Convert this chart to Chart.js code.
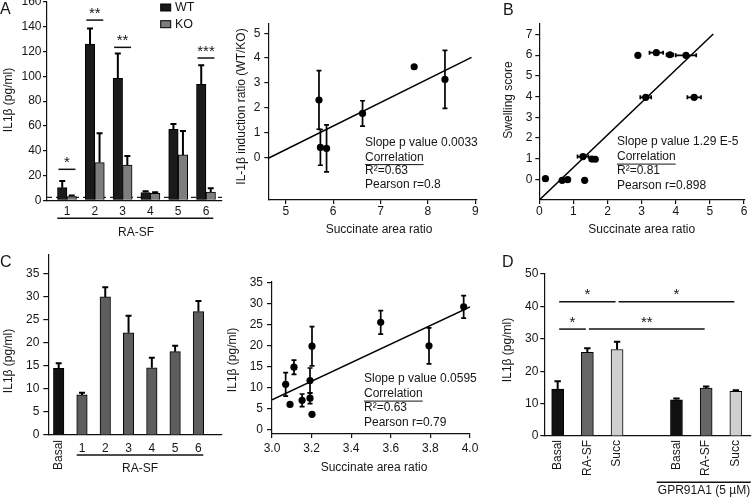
<!DOCTYPE html>
<html>
<head>
<meta charset="utf-8">
<script src="https://cdn.jsdelivr.net/npm/chart.js@4.4.1/dist/chart.umd.min.js"></script>
<style>
  html, body { margin: 0; padding: 0; background: #fff; }
  #wrap { position: relative; width: 754px; height: 499px; overflow: hidden; }
  #wrap canvas { position: absolute; left: 0; top: 0; }
</style>
</head>
<body>
<div id="wrap">
  <canvas id="barsA" width="754" height="499"></canvas>
  <canvas id="scatterA" width="754" height="499"></canvas>
  <canvas id="scatterB" width="754" height="499"></canvas>
  <canvas id="barsC" width="754" height="499"></canvas>
  <canvas id="scatterC" width="754" height="499"></canvas>
  <canvas id="barsD" width="754" height="499"></canvas>
</div>
<script>
// ---- data ----

// A, left: IL1β per RA-SF sample, WT vs KO
const samplesA = ['1', '2', '3', '4', '5', '6'];
const wtA = [10.2, 126, 98.4, 6.2, 57.3, 93.5];
const wtErrA = [5.4, 12.7, 20, 1.1, 4.3, 15.5];
const koA = [3, 30.4, 28.5, 5.6, 36.6, 6.7];
const koErrA = [0.8, 23.6, 7.3, 0.9, 19.4, 3];
const cutoffA = 2.4;
const starsA = [
  { group: 1, level: 25, label: '*' },
  { group: 2, level: 145.4, label: '**' },
  { group: 3, level: 123.4, label: '**' },
  { group: 6, level: 114.8, label: '***' }
];

// A, right: induction ratio vs succinate area ratio
const ratioA = [5.70, 5.73, 5.86, 6.62, 7.71, 8.36];
const inductionA = [2.31, 0.40, 0.36, 1.77, 3.65, 3.14];
const inductionErrA = [1.18, 0.72, 0.95, 0.51, 0, 1.17];
const fitXA = [4.63, 8.92];
const fitYA = [-0.04, 4.03];
const statsA = ['Slope p value 0.0033', 'Correlation', 'R\u00b2=0.63', 'Pearson r=0.8'];

// B: swelling score vs succinate area ratio
const ratioB = [0.18, 0.67, 0.83, 1.33, 1.28, 1.54, 1.64, 2.89, 3.43, 3.83, 4.30, 3.12, 4.54];
const ratioErrB = [0, 0, 0, 0, 0.16, 0, 0, 0, 0.2, 0.1, 0.3, 0.16, 0.2];
const swellingB = [0.03, -0.05, -0.02, -0.05, 1.1, 0.98, 0.97, 5.99, 6.12, 6.02, 5.99, 3.96, 3.96];
const fitXB = [0, 5.1];
const fitYB = [-1.0, 7.02];
const statsB = ['Slope p value 1.29 E-5', 'Correlation', 'R\u00b2=0.81', 'Pearson r=0.898'];

// C, left: IL1β basal and per RA-SF sample
const samplesC = ['Basal', '1', '2', '3', '4', '5', '6'];
const il1bC = [14.5, 8.7, 30, 22.2, 14.6, 18.1, 26.8];
const il1bErrC = [1.1, 0.5, 2.1, 3.7, 2.2, 1.3, 2.3];

// C, right: IL1β vs succinate area ratio
const ratioC = [3.069, 3.091, 3.111, 3.152, 3.192, 3.192, 3.202, 3.202, 3.549, 3.793, 3.968];
const scatterIl1bC = [10.8, 6.0, 14.9, 7.0, 11.7, 7.5, 19.9, 3.65, 25.6, 20.0, 29.3];
const scatterErrC = [2.8, 0, 1.7, 1.5, 3.0, 1.3, 4.7, 0, 2.8, 4.3, 2.7];
const fitXC = [3.0, 4.0];
const fitYC = [7.1, 29.3];
const statsC = ['Slope p value 0.0595', 'Correlation', 'R\u00b2=0.63', 'Pearson r=0.79'];

// D: IL1β with and without GPR91A1
const conditionsD = ['Basal', 'RA-SF', 'Succ', '', 'Basal', 'RA-SF', 'Succ'];
const il1bD = [14.5, 25.8, 26.7, null, 11.2, 14.8, 13.8];
const il1bErrD = [2.4, 1.3, 2.4, null, 0.4, 0.5, 0.3];
const starsD = [
  { from: 0, to: 2, level: 41.4, label: '*' },
  { from: 2, to: 6, level: 41.4, label: '*' },
  { from: 0, to: 1, level: 33, label: '*' },
  { from: 1, to: 5, level: 33, label: '**' }
];

// ---- styling and helpers ----
const FONT = 'Arial, "Liberation Sans", sans-serif';
const INK = '#161616';
const W = 754, H = 499;
const Y_BOX = 40, X_BOX = 30;   // fixed room given to each scale
Chart.defaults.font.family = FONT;
Chart.defaults.font.size = 12;
Chart.defaults.color = INK;

// padding so the chart area lands on the given page box
function area(l, t, r, b) {
  return { left: l - Y_BOX, top: t, right: W - r, bottom: H - b - X_BOX };
}

// every scale gets the same fixed box, no automatic padding
function fixed(vertical) {
  return function(s) {
    if (vertical) s.width = Y_BOX; else s.height = X_BOX;
    s.paddingLeft = s.paddingRight = s.paddingTop = s.paddingBottom = 0;
  };
}

function axis(vertical, min, max, step, tick, pad, show) {
  return {
    type: 'linear', min: min, max: max, offset: false,
    afterFit: fixed(vertical),
    border: { color: '#111', width: 1.2 },
    grid: { drawOnChartArea: false, drawTicks: tick > 0, tickLength: tick, color: '#111', lineWidth: 1.2, offset: false },
    ticks: { stepSize: step, padding: pad, autoSkip: false, maxRotation: 0, minRotation: 0, includeBounds: false, callback: show }
  };
}

function whole(v) { return Math.abs(v - Math.round(v)) < 1e-6; }
function between(lo, hi) {
  return v => (whole(v) && v >= lo && v <= hi) ? String(Math.round(v)) : null;
}

function text(ctx, str, x, y, o) {
  o = o || {};
  const size = o.size || 12;
  ctx.save();
  ctx.font = size + 'px ' + FONT;
  ctx.fillStyle = INK;
  ctx.textAlign = o.align || 'left';
  ctx.textBaseline = o.baseline || 'middle';
  ctx.translate(x, y);
  if (o.rotate) ctx.rotate(-Math.PI / 2);
  ctx.fillText(str, 0, 0);
  if (o.underline) {
    const w = ctx.measureText(str).width;
    ctx.fillRect(0, size * 0.55, w, 1);
  }
  ctx.restore();
}

function rule(ctx, x1, y1, x2, y2, w) {
  ctx.save();
  ctx.strokeStyle = '#111';
  ctx.lineWidth = w || 1.4;
  ctx.beginPath();
  ctx.moveTo(x1, y1);
  ctx.lineTo(x2, y2);
  ctx.stroke();
  ctx.restore();
}

function stats(ctx, lines, x, ys) {
  lines.forEach((s, i) => text(ctx, s, x, ys[i], { underline: s === 'Correlation' }));
}

// error bars from dataset.yErr / dataset.xErr
const errorBars = {
  id: 'errorBars',
  afterDatasetsDraw(chart) {
    const ctx = chart.ctx, xs = chart.scales.x, ys = chart.scales.y;
    chart.data.datasets.forEach((ds, di) => {
      if (!ds.yErr && !ds.xErr) return;
      const meta = chart.getDatasetMeta(di);
      const cap = ds.errCap || 2.5;
      ctx.save();
      ctx.strokeStyle = '#000';
      ctx.lineWidth = ds.errWidth || 1.6;
      ds.data.forEach((p, i) => {
        if (!p || p.y == null) return;
        const el = meta.data[i];
        const px = el.x, py = el.y;
        ctx.beginPath();
        const ey = ds.yErr ? ds.yErr[i] : 0;
        if (ey) {
          const top = ys.getPixelForValue(p.y + ey);
          const bot = ds.upOnly ? py : ys.getPixelForValue(p.y - ey);
          ctx.moveTo(px, bot); ctx.lineTo(px, top);
          ctx.moveTo(px - cap, top); ctx.lineTo(px + cap, top);
          if (!ds.upOnly) { ctx.moveTo(px - cap, bot); ctx.lineTo(px + cap, bot); }
        }
        const ex = ds.xErr ? ds.xErr[i] : 0;
        if (ex) {
          const l = xs.getPixelForValue(p.x - ex), r = xs.getPixelForValue(p.x + ex);
          ctx.moveTo(l, py); ctx.lineTo(r, py);
          ctx.moveTo(l, py - cap); ctx.lineTo(l, py + cap);
          ctx.moveTo(r, py - cap); ctx.lineTo(r, py + cap);
        }
        ctx.stroke();
      });
      ctx.restore();
    });
  }
};

function makeChart(id, type, datasets, pad, x, y, draw) {
  return new Chart(document.getElementById(id), {
    type: type,
    data: { datasets: datasets },
    options: {
      responsive: false,
      animation: false,
      events: [],
      layout: { padding: pad, autoPadding: false },
      plugins: { legend: { display: false }, tooltip: { enabled: false } },
      scales: { x: x, y: y }
    },
    plugins: [errorBars, {
      id: 'decor',
      afterDraw(c) { c.ctx.save(); draw(c.ctx, c.scales.x, c.scales.y, c); c.ctx.restore(); }
    }]
  });
}

function points(xs, ys) { return xs.map((x, i) => ({ x: x, y: ys[i] })); }
function indexed(vals, from) { return vals.map((v, i) => ({ x: i + (from || 0), y: v })); }

function scatterSet(xs, ys, extra) {
  return Object.assign({
    data: points(xs, ys), pointRadius: 3.6, pointBackgroundColor: '#000',
    pointBorderWidth: 0, showLine: false, errCap: 2.5, errWidth: 1.7
  }, extra);
}
function fitSet(xs, ys) {
  return { data: points(xs, ys), showLine: true, pointRadius: 0, borderColor: '#000', borderWidth: 1.5 };
}

// ---- A, bars ----
const xMinA = 0.281, xMaxA = 6.576;
makeChart('barsA', 'bar', [
  { label: 'WT', data: indexed(wtA, 1), backgroundColor: '#1a1a1a', borderColor: '#000',
    borderWidth: 1, barThickness: 9.5, yErr: wtErrA, upOnly: true, errCap: 3, errWidth: 2 },
  { label: 'KO', data: indexed(koA, 1), backgroundColor: '#7d7d7d', borderColor: '#000',
    borderWidth: 1, barThickness: 9.5, yErr: koErrA, upOnly: true, errCap: 3, errWidth: 2 },
  { type: 'line', data: [{ x: xMinA, y: cutoffA }, { x: xMaxA, y: cutoffA }], borderColor: '#222',
    borderWidth: 1.3, borderDash: [5, 4], pointRadius: 0 }
], area(47, 2, 222, 200.3),
  axis(false, xMinA, xMaxA, 1, 0, 4, v => (whole(v) && v >= 1 && v <= samplesA.length) ? samplesA[v - 1] : null),
  axis(true, 0, 160, 20, 4, 1.5, between(0, 160)),
  (ctx, xs, ys, c) => {
    text(ctx, 'A', 0, 13.5, { size: 16, baseline: 'alphabetic' });
    text(ctx, 'IL1\u03b2 (pg/ml)', 8.5, 100, { rotate: true, align: 'center' });
    rule(ctx, 57.3, 218.3, 213.3, 218.3, 1.4);
    text(ctx, 'RA-SF', 136, 232.3, { align: 'center' });
    c.data.datasets.filter(d => d.label).forEach((d, k) => {
      const top = 4 + k * 16.7;
      ctx.fillStyle = d.backgroundColor;
      ctx.fillRect(160.7, top, 10, 7);
      ctx.strokeStyle = '#000';
      ctx.lineWidth = 1;
      ctx.strokeRect(160.7, top, 10, 7);
      text(ctx, d.label, 175, top + 3.6, { size: 12.5 });
    });
    starsA.forEach(s => {
      const cx = xs.getPixelForValue(s.group), y = ys.getPixelForValue(s.level);
      rule(ctx, cx - 8.5, y, cx + 8.5, y, 1.5);
      text(ctx, s.label, cx, y - 2.5, { size: 15, align: 'center', baseline: 'alphabetic' });
    });
  });

// ---- A, scatter ----
makeChart('scatterA', 'scatter', [
  scatterSet(ratioA, inductionA, { yErr: inductionErrA }),
  fitSet(fitXA, fitYA)
], area(268.3, 23.3, 476.7, 200),
  axis(false, 4.63, 9.03, 1, 4, 0, between(5, 9)),
  axis(true, -1.72, 5.4, 1, 4, 4, between(0, 5)),
  (ctx) => {
    stats(ctx, statsA, 365, [143, 157.5, 171, 185]);
    text(ctx, 'Succinate area ratio', 379, 229.3, { align: 'center' });
    text(ctx, 'IL-1\u03b2 induction ratio (WT/KO)', 241.7, 106.5, { rotate: true, align: 'center' });
  });

// ---- B ----
makeChart('scatterB', 'scatter', [
  scatterSet(ratioB, swellingB, { xErr: ratioErrB, errCap: 2 }),
  fitSet(fitXB, fitYB)
], area(539.3, 23.3, 745, 200),
  axis(false, 0, 6.03, 1, 4, 0, between(0, 6)),
  axis(true, -1, 7.54, 1, 4, 3, between(0, 7)),
  (ctx) => {
    text(ctx, 'B', 503, 15, { size: 16, baseline: 'alphabetic' });
    stats(ctx, statsB, 617, [142, 157, 171, 186]);
    text(ctx, 'Succinate area ratio', 641.7, 229.3, { align: 'center' });
    text(ctx, 'Swelling score', 508.3, 100, { rotate: true, align: 'center' });
  });

// ---- C, bars ----
makeChart('barsC', 'bar', [
  { data: indexed(il1bC), backgroundColor: samplesC.map(s => s === 'Basal' ? '#111' : '#5e5e5e'),
    borderColor: '#000', borderWidth: 1, barThickness: 10.5, yErr: il1bErrC, upOnly: true, errCap: 3, errWidth: 2 }
], area(48.3, 255, 221.7, 435),
  axis(false, -0.446, 7.0, 1, 0, 6, v => (whole(v) && v >= 1 && v < samplesC.length) ? samplesC[v] : null),
  axis(true, 0, 39.1, 5, 5, 4, between(0, 35)),
  (ctx, xs) => {
    text(ctx, 'C', 0, 267, { size: 16, baseline: 'alphabetic' });
    text(ctx, 'IL1\u03b2 (pg/ml)', 8.5, 361, { rotate: true, align: 'center' });
    samplesC.forEach((s, i) => {
      if (s === 'Basal') text(ctx, s, xs.getPixelForValue(i), 440, { rotate: true, align: 'right' });
    });
    rule(ctx, 76.7, 455, 203.3, 455, 1.4);
    text(ctx, 'RA-SF', 140, 468.3, { align: 'center' });
  });

// ---- C, scatter ----
makeChart('scatterC', 'scatter', [
  scatterSet(ratioC, scatterIl1bC, { yErr: scatterErrC }),
  fitSet(fitXC, fitYC)
], area(272, 281.7, 470, 434),
  axis(false, 3.0, 4.0, 0.2, 4, 3, v => (v >= 2.999 && v <= 4.001) ? v.toFixed(1) : null),
  axis(true, -1.05, 35.3, 5, 5, 4, between(0, 35)),
  (ctx) => {
    stats(ctx, statsC, 364, [379, 394, 408, 423]);
    text(ctx, 'Succinate area ratio', 374, 468, { align: 'center' });
    text(ctx, 'IL1\u03b2 (pg/ml)', 233, 360, { rotate: true, align: 'center' });
  });

// ---- D ----
makeChart('barsD', 'bar', [
  { data: indexed(il1bD),
    backgroundColor: conditionsD.map(s => s === 'Basal' ? '#111' : (s === 'RA-SF' ? '#666' : '#cfcfcf')),
    borderColor: '#000', borderWidth: 1, barThickness: 12, yErr: il1bErrD, upOnly: true, errCap: 3.2, errWidth: 2 }
], area(544.3, 274, 750.7, 436),
  Object.assign(axis(false, -0.45, 6.5, 1, 0, 0, () => null), { ticks: { display: false } }),
  axis(true, 0, 50, 10, 4, 2, between(0, 50)),
  (ctx, xs, ys) => {
    text(ctx, 'D', 502, 267, { size: 16, baseline: 'alphabetic' });
    text(ctx, 'IL1\u03b2 (pg/ml)', 508, 350, { rotate: true, align: 'center' });
    conditionsD.forEach((s, i) => {
      if (s) text(ctx, s, xs.getPixelForValue(i), 440, { rotate: true, align: 'right' });
    });
    starsD.forEach(s => {
      const x1 = xs.getPixelForValue(s.from) + 1.5, x2 = xs.getPixelForValue(s.to) - 1.5;
      const y = ys.getPixelForValue(s.level);
      rule(ctx, x1, y, x2, y, 1.5);
      text(ctx, s.label, (x1 + x2) / 2, y - 2.5, { size: 15, align: 'center', baseline: 'alphabetic' });
    });
    rule(ctx, 656.7, 482.3, 750.7, 482.3, 1.4);
    text(ctx, 'GPR91A1 (5 \u00b5M)', 704, 490.7, { align: 'center' });
  });
</script>
</body>
</html>
